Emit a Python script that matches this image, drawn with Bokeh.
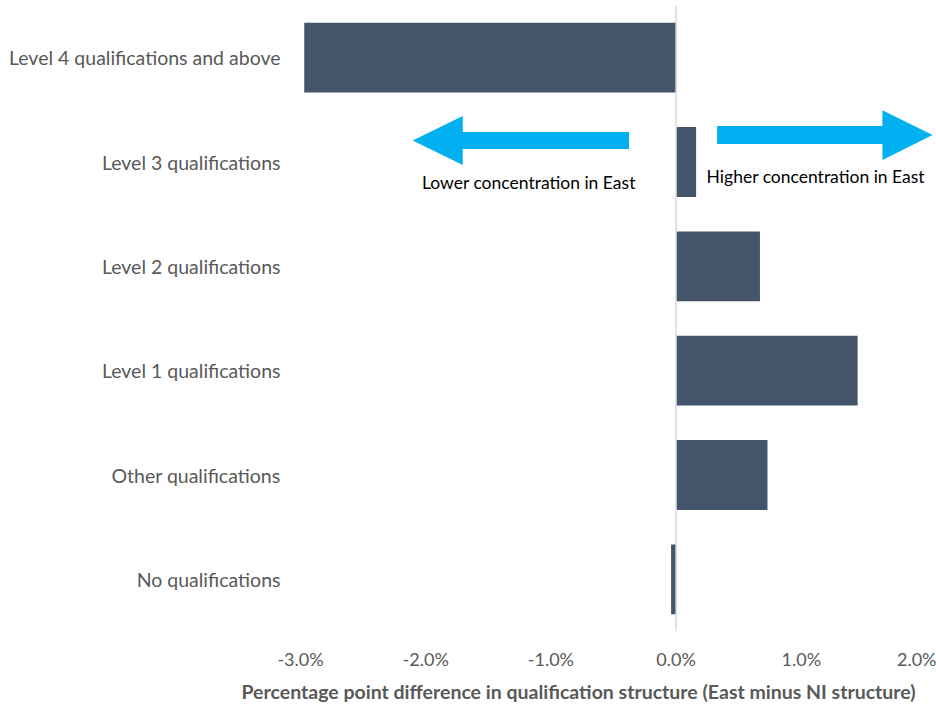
from bokeh.plotting import figure
from bokeh.models import FixedTicker, PrintfTickFormatter, Span, Label, PolyAnnotation, ColumnDataSource, Title
from bokeh.embed import file_html
from bokeh.resources import INLINE

categories = ["Level 4 qualifications and above", "Level 3 qualifications", "Level 2 qualifications",
              "Level 1 qualifications", "Other qualifications", "No qualifications"]
values = [-2.97, 0.16, 0.67, 1.45, 0.73, -0.04]
x_ticks = [-3, -2, -1, 0, 1, 2]

n = len(categories)
ypos = [n - 1 - i for i in range(n)]

FONT = "Lato"
GREY = "#595959"

p = figure(width=936, height=707, output_backend="svg", toolbar_location=None,
           x_range=(-3, 2.08), y_range=(-0.5, n - 0.5),
           min_border_left=300, min_border_right=0, min_border_top=5, min_border_bottom=75)
p.outline_line_color = None
p.grid.grid_line_color = None
p.background_fill_color = "white"
p.border_fill_color = "white"

src = ColumnDataSource(dict(y=ypos, right=values, left=[0] * n))
p.hbar(y="y", left="left", right="right", height=0.67, source=src,
       fill_color="#44546A", line_color=None)

p.add_layout(Span(location=0, dimension="height", line_color="#D9D9D9", line_width=1.5), "below")

# axes
p.xaxis.ticker = FixedTicker(ticks=x_ticks)
p.xaxis.formatter = PrintfTickFormatter(format="%.1f%%")
p.yaxis.ticker = FixedTicker(ticks=ypos)
p.yaxis.major_label_overrides = {y: c for y, c in zip(ypos, categories)}
for ax in (p.xaxis[0], p.yaxis[0]):
    ax.axis_line_color = None
    ax.major_tick_line_color = None
    ax.minor_tick_line_color = None
    ax.major_tick_out = 0
    ax.major_tick_in = 0
    ax.minor_tick_out = 0
    ax.minor_tick_in = 0
    ax.major_label_text_font = FONT
    ax.major_label_text_color = GREY
p.xaxis.major_label_text_font_size = "18px"
p.yaxis.major_label_text_font_size = "19.5px"
p.xaxis.major_label_standoff = 16
p.yaxis.major_label_standoff = 20

# arrows
ARROW = "#00B0F0"
p.add_layout(PolyAnnotation(
    xs=[-2.104, -1.704, -1.704, -0.376, -0.376, -1.704, -1.704],
    ys=[4.206, 4.440, 4.288, 4.288, 4.124, 4.124, 3.972],
    fill_color=ARROW, fill_alpha=1.0, line_color=None))
p.add_layout(PolyAnnotation(
    xs=[2.048, 1.648, 1.648, 0.328, 0.328, 1.648, 1.648],
    ys=[4.258, 4.497, 4.344, 4.344, 4.172, 4.172, 4.019],
    fill_color=ARROW, fill_alpha=1.0, line_color=None))

p.add_layout(Label(x=-1.176, y=3.80, text="Lower concentration in East", text_align="center",
                   text_baseline="middle", text_font=FONT, text_font_size="17.5px", text_color="#000000"))
p.add_layout(Label(x=1.116, y=3.857, text="Higher concentration in East", text_align="center",
                   text_baseline="middle", text_font=FONT, text_font_size="17.5px", text_color="#000000"))

p.add_layout(Title(text="Percentage point difference in qualification structure (East minus NI structure)",
                   align="left", offset=-59, text_font=FONT, text_font_size="19.5px",
                   text_font_style="bold", text_color=GREY, standoff=10), "below")

open("out.html", "w").write(file_html(p, INLINE))
